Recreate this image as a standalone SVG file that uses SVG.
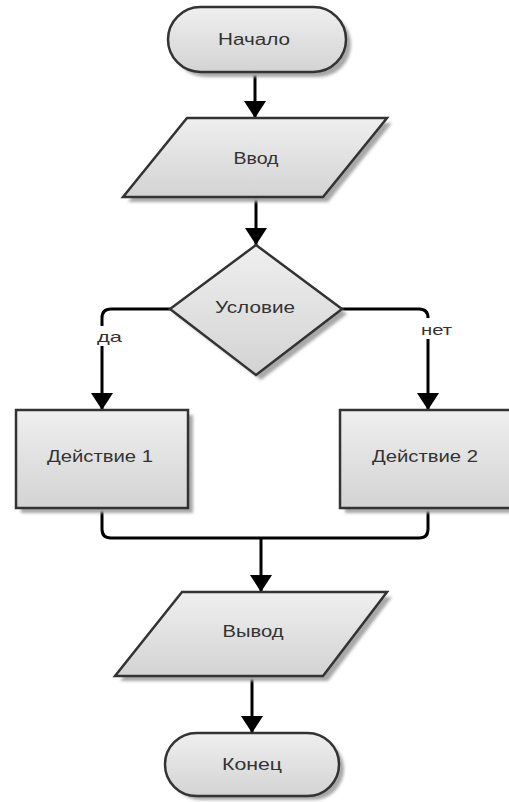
<svg xmlns="http://www.w3.org/2000/svg" width="509" height="802" viewBox="0 0 509 802">
  <defs>
    <linearGradient id="g" x1="0" y1="0" x2="0" y2="1">
      <stop offset="0" stop-color="#efefef"/>
      <stop offset="1" stop-color="#d3d3d3"/>
    </linearGradient>
    <filter id="blur" x="-10%" y="-10%" width="120%" height="120%">
      <feGaussianBlur stdDeviation="1.5"/>
    </filter>
    <marker id="arr" markerUnits="userSpaceOnUse" markerWidth="18" markerHeight="22" refX="17" refY="11" orient="auto">
      <path d="M0,0 L17,11 L0,22 Z" fill="#000"/>
    </marker>
  </defs>
  <style>
    .shape { fill: url(#g); stroke: #333; stroke-width: 2.5; }
    .shadow { fill: #a8a8a8; filter: url(#blur); }
    .txt { font-family: "Liberation Sans", Arial, sans-serif; font-size: 16px; fill: #333; text-anchor: middle; }
    .lbl { font-family: "Liberation Sans", Arial, sans-serif; font-size: 15px; fill: #333; text-anchor: middle; }
    .conn { fill: none; stroke: #000; stroke-width: 3; }
  </style>
  <rect width="509" height="802" fill="#fff"/>

  <g id="connectors">
    <path class="conn" d="M255,72 V118" marker-end="url(#arr)"/>
    <path class="conn" d="M256,197 V245" marker-end="url(#arr)"/>
    <path class="conn" d="M170,309 H111 Q102,309 102,318 V410" marker-end="url(#arr)"/>
    <path class="conn" d="M342,309 H419 Q428,309 428,318 V410" marker-end="url(#arr)"/>
    <path class="conn" d="M102,508 V529 Q102,538 111,538 H419 Q428,538 428,529 V508"/>
    <path class="conn" d="M261,538 V592" marker-end="url(#arr)"/>
    <path class="conn" d="M252,676 V733" marker-end="url(#arr)"/>
    <rect x="95" y="326" width="30" height="20" fill="#fff"/>
    <text class="lbl" x="109.5" y="342" textLength="25" lengthAdjust="spacingAndGlyphs">да</text>
    <rect x="417" y="318" width="38" height="21" fill="#fff"/>
    <text class="lbl" x="436.5" y="335" textLength="31" lengthAdjust="spacingAndGlyphs">нет</text>
  </g>

  <g id="start">
    <rect class="shadow" x="173" y="12" width="178" height="65" rx="32.5"/>
    <rect class="shape" x="168" y="7" width="178" height="65" rx="32.5"/>
    <text class="txt" x="254" y="45" textLength="72" lengthAdjust="spacingAndGlyphs">Начало</text>
  </g>

  <g id="input">
    <polygon class="shadow" points="192,123 392,123 328,202 128,202"/>
    <polygon class="shape" points="187,118 387,118 323,197 123,197"/>
    <text class="txt" x="256" y="164" textLength="45" lengthAdjust="spacingAndGlyphs">Ввод</text>
  </g>

  <g id="condition">
    <polygon class="shadow" points="261,250 347,314 261,380 175,314"/>
    <polygon class="shape" points="256,245 342,309 256,375 170,309"/>
    <text class="txt" x="255" y="313" textLength="80" lengthAdjust="spacingAndGlyphs">Условие</text>
  </g>

  <g id="action1">
    <rect class="shadow" x="21" y="415" width="172" height="98"/>
    <rect class="shape" x="16" y="410" width="172" height="98"/>
    <text class="txt" x="100" y="462" textLength="106" lengthAdjust="spacingAndGlyphs">Действие 1</text>
  </g>

  <g id="action2">
    <rect class="shadow" x="345" y="415" width="172" height="98"/>
    <rect class="shape" x="340" y="410" width="172" height="98"/>
    <text class="txt" x="425" y="462" textLength="106" lengthAdjust="spacingAndGlyphs">Действие 2</text>
  </g>

  <g id="output">
    <polygon class="shadow" points="187,597 392,597 328,681 120,681"/>
    <polygon class="shape" points="182,592 387,592 323,676 115,676"/>
    <text class="txt" x="253" y="637" textLength="61" lengthAdjust="spacingAndGlyphs">Вывод</text>
  </g>

  <g id="end">
    <rect class="shadow" x="170" y="738" width="174" height="62" rx="31"/>
    <rect class="shape" x="165" y="733" width="174" height="63" rx="31.5"/>
    <text class="txt" x="252" y="770" textLength="60" lengthAdjust="spacingAndGlyphs">Конец</text>
  </g>
</svg>
